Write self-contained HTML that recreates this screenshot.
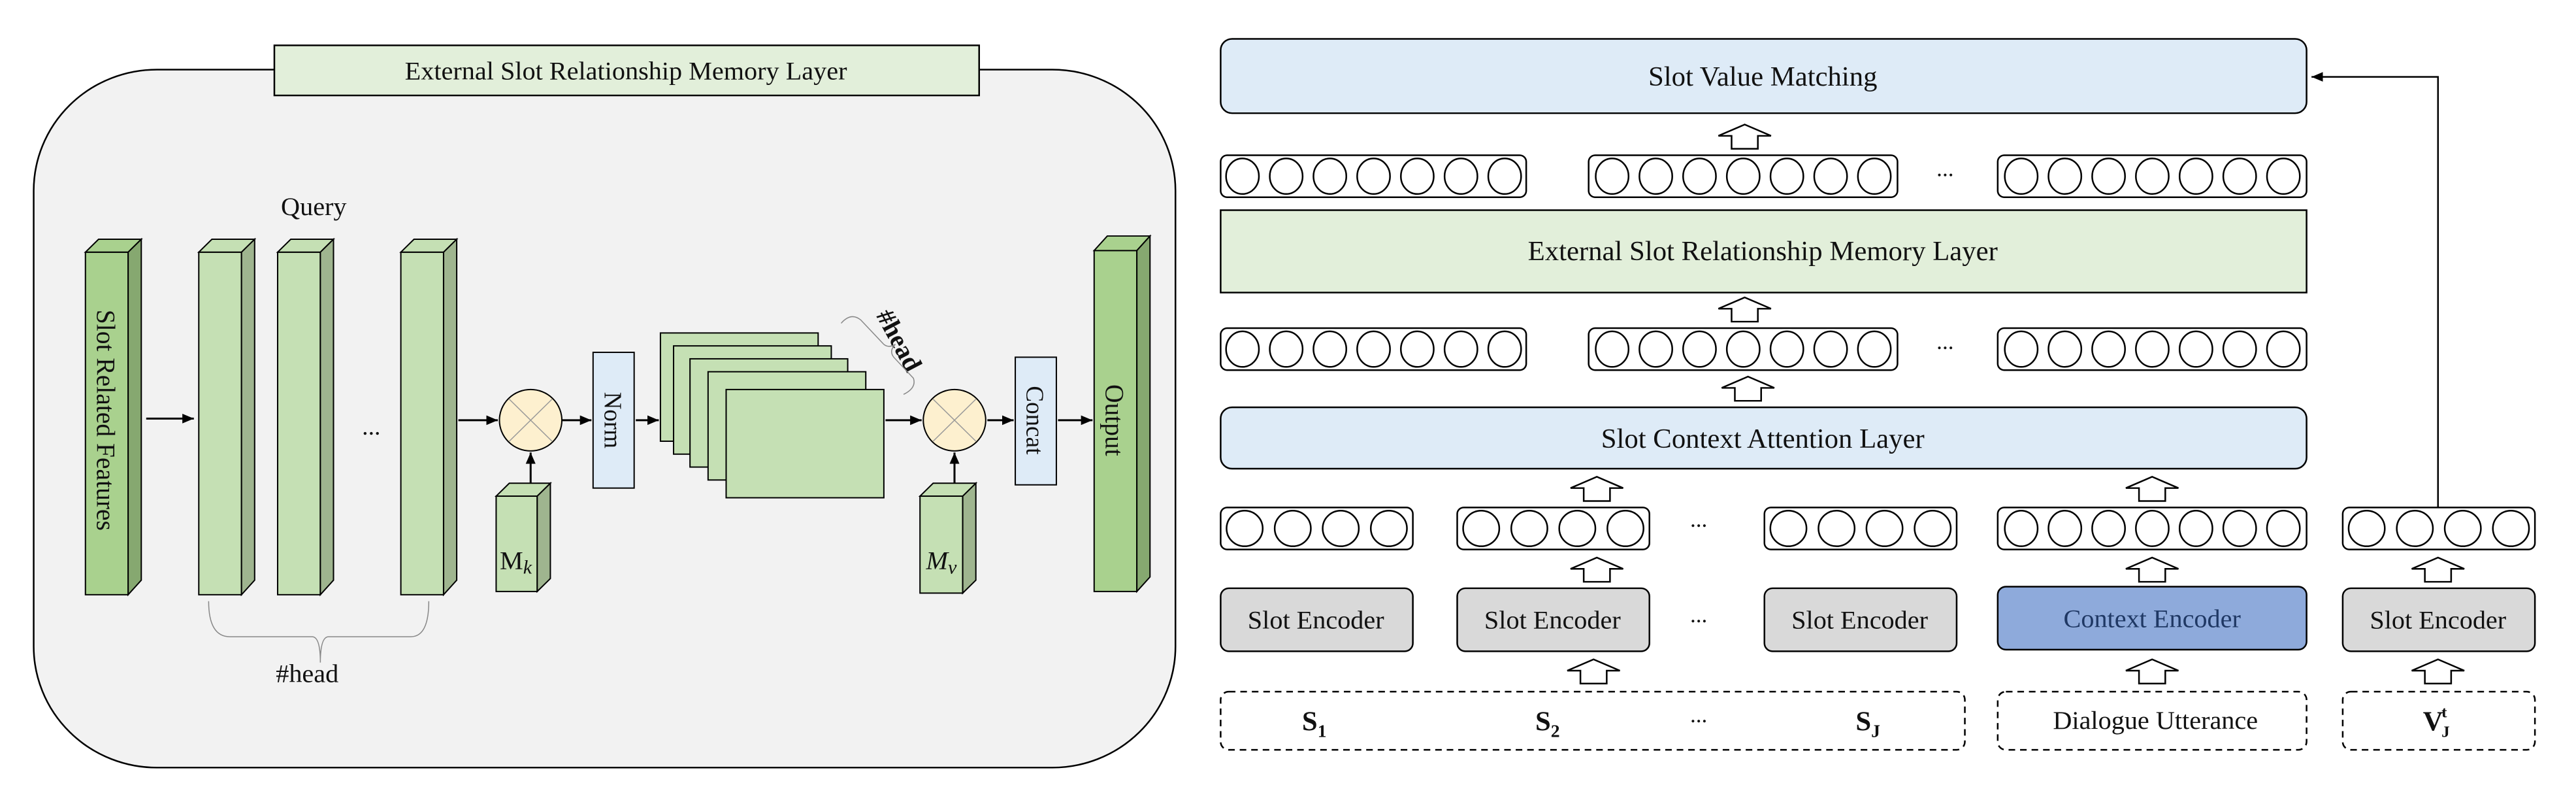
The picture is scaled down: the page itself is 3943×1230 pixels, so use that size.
<!DOCTYPE html>
<html><head><meta charset="utf-8"><style>
html,body{margin:0;padding:0;background:#fff;}
svg{display:block;}
text{font-family:"Liberation Serif",serif;fill:#111;}
</style></head><body>
<svg width="3943" height="1230" viewBox="0 0 1568 489" xmlns="http://www.w3.org/2000/svg">
<defs>
<marker id="ah" markerWidth="8" markerHeight="8" refX="7" refY="4" orient="auto" markerUnits="userSpaceOnUse">
<path d="M0,1 L7,4 L0,7 z" fill="#000"/></marker>
<g id="c7">
<ellipse cx="13.3" cy="0" rx="10" ry="11"/><ellipse cx="39.9" cy="0" rx="10" ry="11"/><ellipse cx="66.5" cy="0" rx="10" ry="11"/><ellipse cx="93.1" cy="0" rx="10" ry="11"/><ellipse cx="119.7" cy="0" rx="10" ry="11"/><ellipse cx="146.3" cy="0" rx="10" ry="11"/><ellipse cx="172.9" cy="0" rx="10" ry="11"/>
</g>
<g id="c4">
<ellipse cx="14.6" cy="0" rx="11" ry="11"/><ellipse cx="43.9" cy="0" rx="11" ry="11"/><ellipse cx="73.1" cy="0" rx="11" ry="11"/><ellipse cx="102.4" cy="0" rx="11" ry="11"/>
</g>
<polygon id="ha" points="0,0 16,7 8,7 8,15 -8,15 -8,7 -16,7"/>
</defs>
<g transform="scale(1,0.983)">
<!-- LEFT PANEL -->
<rect x="20.5" y="43" width="695" height="432" rx="75" ry="75" fill="#f2f2f2" stroke="#000" stroke-width="1"/>
<rect x="167" y="28" width="429" height="31" fill="#e2efda" stroke="#000" stroke-width="1"/>
<text x="381" y="49" font-size="16" text-anchor="middle">External Slot Relationship Memory Layer</text>

<g stroke="#000" stroke-width="0.8">
<rect x="52" y="156" width="26" height="212" fill="#a9d18e"/>
<polygon points="52,156 60,148 86,148 78,156" fill="#a9d18e"/>
<polygon points="78,156 86,148 86,359 78,368" fill="#86a870"/>
<rect x="121" y="156" width="26" height="212" fill="#c5e0b4"/>
<polygon points="121,156 129,148 155,148 147,156" fill="#c5e0b4"/>
<polygon points="147,156 155,148 155,359 147,368" fill="#9fb58f"/>
<rect x="169" y="156" width="26" height="212" fill="#c5e0b4"/>
<polygon points="169,156 177,148 203,148 195,156" fill="#c5e0b4"/>
<polygon points="195,156 203,148 203,359 195,368" fill="#9fb58f"/>
<rect x="244" y="156" width="26" height="212" fill="#c5e0b4"/>
<polygon points="244,156 252,148 278,148 270,156" fill="#c5e0b4"/>
<polygon points="270,156 278,148 278,359 270,368" fill="#9fb58f"/>
<rect x="302" y="307" width="25" height="59" fill="#c5e0b4"/>
<polygon points="302,307 310,299 335,299 327,307" fill="#c5e0b4"/>
<polygon points="327,307 335,299 335,358 327,366" fill="#9fb58f"/>
<rect x="560" y="307" width="26" height="60" fill="#c5e0b4"/>
<polygon points="560,307 568,299 594,299 586,307" fill="#c5e0b4"/>
<polygon points="586,307 594,299 594,359 586,367" fill="#9fb58f"/>
<rect x="666" y="155" width="26" height="211" fill="#a9d18e"/>
<polygon points="666,155 674,146 700,146 692,155" fill="#a9d18e"/>
<polygon points="692,155 700,146 700,357 692,366" fill="#86a870"/>
<rect x="361" y="218" width="25" height="84" fill="#deebf7"/>
<rect x="618" y="221" width="25" height="79" fill="#deebf7"/>
<rect x="402" y="206" width="96" height="67" fill="#c5e0b4"/>
<rect x="410" y="214" width="96" height="67" fill="#c5e0b4"/>
<rect x="420" y="222" width="96" height="67" fill="#c5e0b4"/>
<rect x="431" y="230" width="96" height="67" fill="#c5e0b4"/>
<rect x="442" y="241" width="96" height="67" fill="#c5e0b4"/>
<circle cx="323" cy="260" r="19" fill="#fdf0cf"/>
<circle cx="581" cy="260" r="19" fill="#fdf0cf"/>
</g>
<g stroke="#999" stroke-width="0.6">
<line x1="310" y1="247" x2="336" y2="273"/><line x1="336" y1="247" x2="310" y2="273"/>
<line x1="568" y1="247" x2="594" y2="273"/><line x1="594" y1="247" x2="568" y2="273"/>
</g>
<text transform="translate(59,260) rotate(90)" font-size="16" text-anchor="middle">Slot Related Features</text>
<text transform="translate(368,260) rotate(90)" font-size="15" text-anchor="middle">Norm</text>
<text transform="translate(625,260) rotate(90)" font-size="15" text-anchor="middle">Concat</text>
<text transform="translate(673,260) rotate(90)" font-size="16" text-anchor="middle">Output</text>
<text x="191" y="133" font-size="16" text-anchor="middle">Query</text>
<text x="226" y="269" font-size="15" text-anchor="middle">...</text>
<text x="314" y="352" font-size="16" text-anchor="middle">M<tspan font-style="italic" font-size="12" dy="3">k</tspan></text>
<text x="573" y="352" font-size="16" text-anchor="middle" font-style="italic">M<tspan font-size="12" dy="3">v</tspan></text>
<text x="187" y="422" font-size="16" text-anchor="middle">#head</text>
<text transform="translate(533,195) rotate(62)" font-size="16" font-weight="bold">#head</text>
<g fill="none" stroke="#888" stroke-width="0.6">
<path d="M127,372 Q127,394 140,394 L190,394 Q195,394 195,410 Q195,394 200,394 L250,394 Q261,394 261,372"/>
<path d="M512,200 Q518,193 524,198 L537,212 Q540,216 545,213 Q541,217 544,221 L556,234 Q558,240 550,244"/>
</g>
<g stroke="#000" stroke-width="1.2" marker-end="url(#ah)">
<line x1="89" y1="259" x2="118" y2="259"/>
<line x1="279" y1="260" x2="303" y2="260"/>
<line x1="342" y1="260" x2="360" y2="260"/>
<line x1="387" y1="260" x2="401" y2="260"/>
<line x1="539" y1="260" x2="561" y2="260"/>
<line x1="601" y1="260" x2="617" y2="260"/>
<line x1="644" y1="260" x2="665" y2="260"/>
<line x1="323" y1="299" x2="323" y2="280"/>
<line x1="581" y1="299" x2="581" y2="280"/>
</g>

<!-- RIGHT PANEL -->
<g stroke="#000" stroke-width="1">
<rect x="743" y="24" width="661" height="46" rx="7" fill="#deebf7"/>
<rect x="743" y="130" width="661" height="51" fill="#e2efda"/>
<rect x="743" y="252" width="661" height="38" rx="7" fill="#deebf7"/>
<g fill="#fff">
<rect x="743" y="96" width="186" height="26" rx="4"/><rect x="967" y="96" width="188" height="26" rx="4"/><rect x="1216" y="96" width="188" height="26" rx="4"/>
<rect x="743" y="203" width="186" height="26" rx="4"/><rect x="967" y="203" width="188" height="26" rx="4"/><rect x="1216" y="203" width="188" height="26" rx="4"/>
<rect x="743" y="314" width="117" height="26" rx="4"/><rect x="887" y="314" width="117" height="26" rx="4"/><rect x="1074" y="314" width="117" height="26" rx="4"/><rect x="1216" y="314" width="188" height="26" rx="4"/><rect x="1426" y="314" width="117" height="26" rx="4"/>
</g>
<g fill="#d9d9d9">
<rect x="743" y="364" width="117" height="39" rx="5"/><rect x="887" y="364" width="117" height="39" rx="5"/><rect x="1074" y="364" width="117" height="39" rx="5"/><rect x="1426" y="364" width="117" height="39" rx="5"/>
</g>
<rect x="1216" y="363" width="188" height="39" rx="5" fill="#8eaadb"/>
<g fill="#fff" stroke-dasharray="4,3">
<rect x="743" y="428" width="453" height="36" rx="5"/><rect x="1216" y="428" width="188" height="36" rx="5"/><rect x="1426" y="428" width="117" height="36" rx="5"/>
</g>
</g>
<g fill="#fff" stroke="#000" stroke-width="1">
<use href="#c7" x="743" y="109"/><use href="#c7" x="968" y="109"/><use href="#c7" x="1217" y="109"/>
<use href="#c7" x="743" y="216"/><use href="#c7" x="968" y="216"/><use href="#c7" x="1217" y="216"/>
<use href="#c4" x="743" y="327"/><use href="#c4" x="887" y="327"/><use href="#c4" x="1074" y="327"/><use href="#c7" x="1217" y="327"/><use href="#c4" x="1426" y="327"/>
<use href="#ha" x="1062" y="77"/>
<use href="#ha" x="1062" y="184"/>
<use href="#ha" x="1064" y="233"/>
<use href="#ha" x="972" y="295"/>
<use href="#ha" x="1310" y="295"/>
<use href="#ha" x="972" y="345"/>
<use href="#ha" x="1310" y="345"/>
<use href="#ha" x="1484" y="345"/>
<use href="#ha" x="970" y="408"/>
<use href="#ha" x="1310" y="408"/>
<use href="#ha" x="1484" y="408"/>
</g>
<polyline points="1484,314 1484,47.5 1407,47.5" fill="none" stroke="#000" stroke-width="1" marker-end="url(#ah)"/>
<text x="1073" y="53" font-size="17" text-anchor="middle">Slot Value Matching</text>
<text x="1073" y="161" font-size="17" text-anchor="middle">External Slot Relationship Memory Layer</text>
<text x="1073" y="277" font-size="17" text-anchor="middle">Slot Context Attention Layer</text>
<text x="1184" y="109" font-size="14" text-anchor="middle">...</text>
<text x="1184" y="216" font-size="14" text-anchor="middle">...</text>
<text x="1034" y="326" font-size="14" text-anchor="middle">...</text>
<text x="1034" y="385" font-size="14" text-anchor="middle">...</text>
<text x="1034" y="447" font-size="14" text-anchor="middle">...</text>
<text x="801" y="389" font-size="16" text-anchor="middle">Slot Encoder</text>
<text x="945" y="389" font-size="16" text-anchor="middle">Slot Encoder</text>
<text x="1132" y="389" font-size="16" text-anchor="middle">Slot Encoder</text>
<text x="1310" y="388" font-size="16" text-anchor="middle" style="fill:#1f3864">Context Encoder</text>
<text x="1484" y="389" font-size="16" text-anchor="middle">Slot Encoder</text>
<text x="1312" y="451" font-size="16" text-anchor="middle">Dialogue Utterance</text>
<text x="800" y="452" font-size="17" font-weight="bold" text-anchor="middle">S<tspan font-size="11" dy="4">1</tspan></text>
<text x="942" y="452" font-size="17" font-weight="bold" text-anchor="middle">S<tspan font-size="11" dy="4">2</tspan></text>
<text x="1137" y="452" font-size="17" font-weight="bold" text-anchor="middle">S<tspan font-size="11" dy="4">J</tspan></text>
<text x="1483" y="452" font-size="17" font-weight="bold" text-anchor="middle">V<tspan font-size="10" dx="-1" dy="4">J</tspan><tspan font-size="10" dx="-5" dy="-12">t</tspan></text>
</g>
</svg>
</body></html>
